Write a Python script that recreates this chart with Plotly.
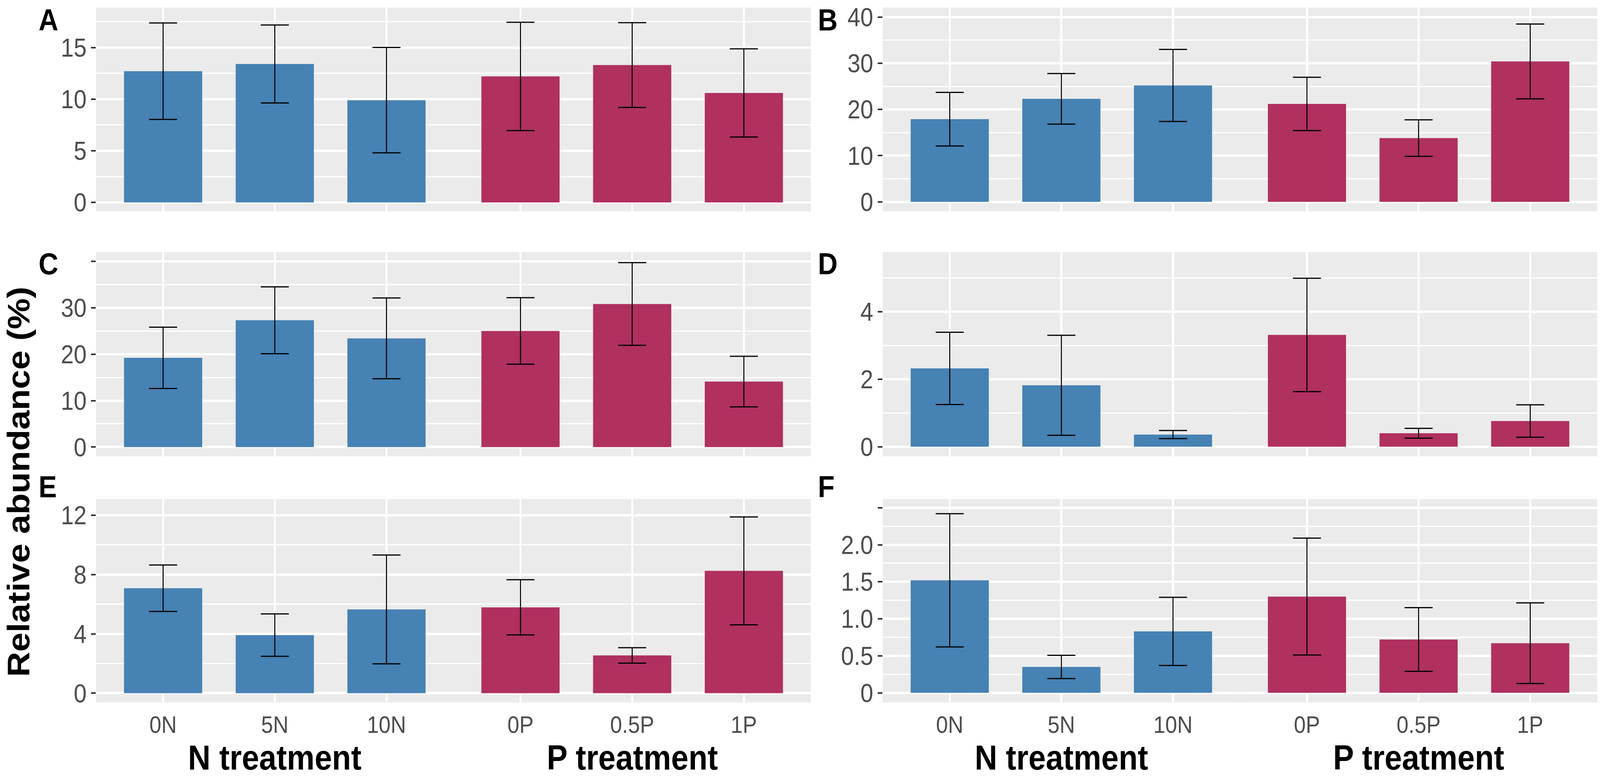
import plotly.graph_objects as go

# categories
cat_n = ["0N", "5N", "10N"]
cat_p = ["0P", "0.5P", "1P"]

# means and error (+/-), per panel
a_n_mean = [12.7, 13.4, 9.9]
a_n_err = [4.67, 3.77, 5.1]
a_p_mean = [12.2, 13.3, 10.6]
a_p_err = [5.24, 4.1, 4.27]

b_n_mean = [17.9, 22.3, 25.2]
b_n_err = [5.8, 5.47, 7.8]
b_p_mean = [21.2, 13.8, 30.4]
b_p_err = [5.78, 3.96, 8.1]

c_n_mean = [19.2, 27.3, 23.4]
c_n_err = [6.6, 7.2, 8.7]
c_p_mean = [25.0, 30.8, 14.1]
c_p_err = [7.15, 8.9, 5.44]

d_n_mean = [2.32, 1.82, 0.36]
d_n_err = [1.07, 1.48, 0.12]
d_p_mean = [3.31, 0.40, 0.76]
d_p_err = [1.68, 0.145, 0.48]

e_n_mean = [7.08, 3.92, 5.65]
e_n_err = [1.57, 1.43, 3.67]
e_p_mean = [5.79, 2.55, 8.25]
e_p_err = [1.86, 0.52, 3.64]

f_n_mean = [1.52, 0.35, 0.83]
f_n_err = [0.90, 0.157, 0.46]
f_p_mean = [1.30, 0.72, 0.67]
f_p_err = [0.79, 0.43, 0.545]

# y axis ticks per panel
a_ticks = [0, 5, 10, 15]
a_minor = [2.5, 7.5, 12.5, 17.5]
b_ticks = [0, 10, 20, 30, 40]
b_minor = [5, 15, 25, 35]
c_ticks = [0, 10, 20, 30, 40]
c_labels = ["0", "10", "20", "30", ""]
c_minor = [5, 15, 25, 35]
d_ticks = [0, 2, 4]
d_minor = [1, 3, 5]
e_ticks = [0, 4, 8, 12]
e_minor = [2, 6, 10]
f_ticks = [0, 0.5, 1.0, 1.5, 2.0, 2.5]
f_labels = ["0", "0.5", "1.0", "1.5", "2.0", ""]
f_minor = [0.25, 0.75, 1.25, 1.75, 2.25]

W, H = 4562, 1989
BLUE = "#4682B4"
RED = "#B03060"
FONT = "Liberation Sans, Arial, sans-serif"

def px_x(p):
    return p / W

def px_y(p):
    return 1 - p / H

# panel layout in pixels: (left, mid, right) and (top, bottom)
cols = [(274, 1293, 2312), (2517, 3535.5, 4554)]
rows = [(7.5, 536), (641.6, 1171.4), (1282, 1810)]

panels = [
    dict(letter="A", n=(a_n_mean, a_n_err), p=(a_p_mean, a_p_err), rng=[-0.86, 18.86],
         ticks=a_ticks, labels=None, minor=a_minor),
    dict(letter="B", n=(b_n_mean, b_n_err), p=(b_p_mean, b_p_err), rng=[-2.05, 42.05],
         ticks=b_ticks, labels=None, minor=b_minor),
    dict(letter="C", n=(c_n_mean, c_n_err), p=(c_p_mean, c_p_err), rng=[-1.99, 41.98],
         ticks=c_ticks, labels=c_labels, minor=c_minor),
    dict(letter="D", n=(d_n_mean, d_n_err), p=(d_p_mean, d_p_err), rng=[-0.284, 5.764],
         ticks=d_ticks, labels=None, minor=d_minor),
    dict(letter="E", n=(e_n_mean, e_n_err), p=(e_p_mean, e_p_err), rng=[-0.63, 13.10],
         ticks=e_ticks, labels=None, minor=e_minor),
    dict(letter="F", n=(f_n_mean, f_n_err), p=(f_p_mean, f_p_err), rng=[-0.131, 2.619],
         ticks=f_ticks, labels=f_labels, minor=f_minor),
]

fig = go.Figure()
layout = {}
annotations = []

for i, pan in enumerate(panels):
    r, c = divmod(i, 2)
    left, mid, right = cols[c]
    top, bottom = rows[r]
    yi = i + 1
    xn = 2 * i + 1
    xp = 2 * i + 2
    yname = "y" if yi == 1 else f"y{yi}"
    bottom_row = r == 2

    for xi, cats, (mean, err), color, dom in [
        (xn, cat_n, pan["n"], BLUE, [px_x(left), px_x(mid)]),
        (xp, cat_p, pan["p"], RED, [px_x(mid), px_x(right)]),
    ]:
        xname = "x" if xi == 1 else f"x{xi}"
        fig.add_trace(go.Bar(
            x=cats, y=mean, xaxis=xname, yaxis=yname,
            marker=dict(color=color, line=dict(width=0)), width=0.7,
            error_y=dict(type="data", array=err, color="black", thickness=3, width=40),
            showlegend=False,
        ))
        layout["xaxis" if xi == 1 else f"xaxis{xi}"] = dict(
            domain=dom, anchor=yname, type="category",
            categoryorder="array", categoryarray=cats, range=[-0.6, 2.6],
            showgrid=True, gridcolor="white", gridwidth=5.5,
            ticks="", showticklabels=bottom_row, zeroline=False, showline=False,
            tickfont=dict(family=FONT, size=61, color="#4D4D4D"),
            ticklabelstandoff=16,
        )

    ytext = pan["labels"] if pan["labels"] else [str(t) for t in pan["ticks"]]
    layout["yaxis" if yi == 1 else f"yaxis{yi}"] = dict(
        domain=[px_y(bottom), px_y(top)], anchor="x" if xn == 1 else f"x{xn}",
        range=pan["rng"], tickmode="array", tickvals=pan["ticks"], ticktext=ytext,
        showgrid=True, gridcolor="white", gridwidth=5.5, zeroline=False, showline=False,
        ticks="outside", ticklen=13, tickwidth=4, tickcolor="#333333",
        tickfont=dict(family=FONT, size=66, color="#4D4D4D"),
        ticklabeloverflow="allow",
        minor=dict(tickvals=pan["minor"], showgrid=True, gridcolor="white",
                   gridwidth=2.75, ticks=""),
    )

    # panel letter
    lx = 108 if c == 0 else 2330
    ly = [40, 672, 1250][r]
    annotations.append(dict(
        text=f"<b>{pan['letter']}</b>", x=px_x(lx), y=px_y(ly), xref="paper", yref="paper",
        xanchor="left", yanchor="middle", showarrow=False,
        font=dict(family=FONT, size=78, color="black"),
    ))

# treatment titles under the bottom row
for left, mid, right in cols:
    for txt, cx in [("N treatment", (left + mid) / 2), ("P treatment", (mid + right) / 2)]:
        annotations.append(dict(
            text=f"<b>{txt}</b>", x=px_x(cx), y=px_y(1953), xref="paper", yref="paper",
            xanchor="center", yanchor="middle", showarrow=False,
            font=dict(family=FONT, size=89, color="black"),
        ))

annotations.append(dict(
    text="<b>Relative abundance (%)</b>", x=px_x(52), y=px_y(1238), xref="paper", yref="paper",
    xanchor="center", yanchor="middle", textangle=-90, showarrow=False,
    font=dict(family=FONT, size=89, color="black"),
))

fig.update_layout(
    width=W, height=H,
    margin=dict(l=0, r=0, t=0, b=0),
    paper_bgcolor="white", plot_bgcolor="#EBEBEB",
    bargap=0.3, annotations=annotations,
    **layout,
)

# the browser may clamp the window, so fit the fixed-size figure to the viewport
fit_js = """
document.body.style.margin = '0';
document.body.style.overflow = 'hidden';
var gd = document.getElementById('{plot_id}');
var sx = window.innerWidth / %d, sy = window.innerHeight / %d;
gd.style.transformOrigin = '0 0';
gd.style.transform = 'scale(' + sx + ',' + sy + ')';
""" % (W, H)

fig.write_html("out.html", post_script=fit_js, config={"displayModeBar": False})
